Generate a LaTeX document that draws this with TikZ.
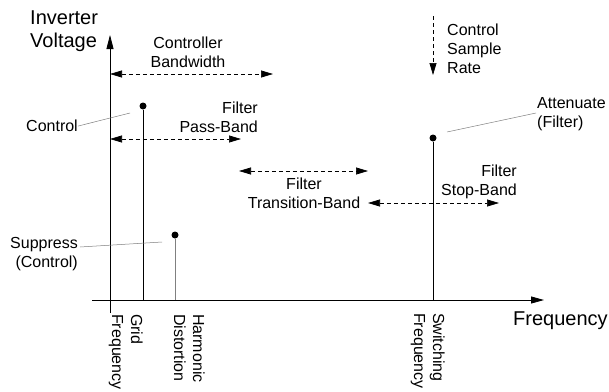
\documentclass[tikz,border=0pt]{standalone}
\usepackage{fontspec}
\setmainfont{Liberation Sans}
\usetikzlibrary{arrows.meta}
\tikzset{
  lbl/.style={font=\fontsize{16}{19}\selectfont, inner sep=0pt},
  big/.style={font=\fontsize{20}{23}\selectfont, inner sep=0pt, align=left},
  dotm/.style={circle, fill=black, inner sep=0pt, minimum size=7pt},
  tipa/.tip={Triangle[length=12pt,width=7pt]},
  dimline/.style={dash pattern=on 4pt off 3pt, line width=0.7pt, {tipa}-{tipa}},
  leader/.style={gray, line width=0.5pt},
  axisline/.style={line width=0.8pt},
  stem/.style={line width=0.8pt},
  vtext/.style={lbl, rotate=-90, anchor=north west, align=left}
}
\begin{document}
\begin{tikzpicture}[x=1pt,y=-1pt]
\path[use as bounding box] (0,0) rectangle (609,391);
% axes
\coordinate (ybot) at (110,313);
\coordinate (ytop) at (110,35);
\coordinate (xl) at (92,300);
\coordinate (xr) at (544,300);
\draw[axisline, -{Triangle[length=14pt,width=7pt]}] (ybot) -- (ytop);
\draw[axisline, -{Triangle[length=13pt,width=7pt]}] (xl) -- (xr);
\node[big, anchor=north west] (inv) at (30,11) {Inverter\\Voltage};
\node[big, anchor=north west] (freqx) at (513,312) {Frequency};
% stems
\node[dotm] (gdot) at (143,106) {};
\coordinate (gbase) at (143,300);
\draw[stem] (gdot) -- (gbase);
\node[dotm] (hdot) at (175,235) {};
\coordinate (hbase) at (175,300);
\draw[stem, gray] (hdot) -- (hbase);
\node[dotm] (sdot) at (433,138) {};
\coordinate (sbase) at (433,300);
\draw[stem] (sdot) -- (sbase);
% rotated labels
\node[vtext] (gridlbl) at (143,314) {Grid\\Frequency};
\node[vtext] (harmlbl) at (205,314) {Harmonic\\Distortion};
\node[vtext] (swlbl) at (445,313) {Switching\\Frequency};
% band arrows
\coordinate (cb1) at (110,74);
\coordinate (cb2) at (273,74);
\draw[dimline] (cb1) -- (cb2);
\node[lbl, align=center, anchor=north] (cbw) at (188,37) {Controller\\Bandwidth};
\coordinate (pb1) at (110,139);
\coordinate (pb2) at (241,139);
\draw[dimline] (pb1) -- (pb2);
\node[lbl, align=right, anchor=north east] (fpb) at (258,102) {Filter\\Pass-Band};
\coordinate (tb1) at (239,171);
\coordinate (tb2) at (368,171);
\draw[dimline] (tb1) -- (tb2);
\node[lbl, align=center, anchor=north] (ftb) at (304,178) {Filter\\Transition-Band};
\coordinate (sb1) at (368,203);
\coordinate (sb2) at (499,203);
\draw[dimline] (sb1) -- (sb2);
\node[lbl, align=right, anchor=north east] (fsb) at (517,165) {Filter\\Stop-Band};
% control sample rate
\coordinate (cs1) at (433,16);
\coordinate (cs2) at (433,75);
\draw[dash pattern=on 4pt off 3pt, line width=0.7pt, -{tipa}] (cs1) -- (cs2);
\node[lbl, align=left, anchor=north west] (csr) at (447,24) {Control\\Sample\\Rate};
% leader labels
\node[lbl, anchor=north east] (ctl) at (78,120) {Control};
\coordinate (ctlend) at (130,113);
\draw[leader] (ctl.east) -- (ctlend);
\node[lbl, align=right, anchor=north east] (sup) at (78,237) {Suppress\\(Control)};
\coordinate (supstart) at (80,247);
\coordinate (supend) at (162,242);
\draw[leader] (supstart) -- (supend);
\node[lbl, align=left, anchor=north west] (att) at (537,97) {Attenuate\\(Filter)};
\coordinate (attstart) at (536,113);
\coordinate (attend) at (447,132);
\draw[leader] (attstart) -- (attend);
\end{tikzpicture}
\end{document}
